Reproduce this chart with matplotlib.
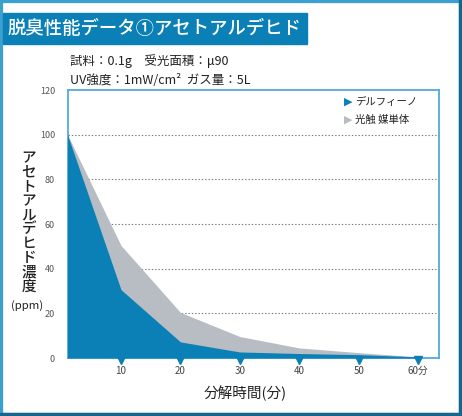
import matplotlib
matplotlib.use("Agg")
import matplotlib.pyplot as plt
from matplotlib.patches import Rectangle
from matplotlib import transforms

plt.rcParams['font.family'] = ['Noto Sans CJK JP', 'DejaVu Sans']

# ---- data ----
minutes = [1, 10, 20, 30, 40, 50, 60]
delfino = [100, 30.6, 7.2, 2.7, 2.0, 1.5, 0.5]
photocat = [100, 50.4, 20.4, 9.6, 4.5, 2.4, 0.5]
series_names = ["デルフィーノ", "光触 媒単体"]
x_ticks = [10, 20, 30, 40, 50, 60]
x_ticklabels = ["10", "20", "30", "40", "50", "60分"]
y_ticks = [0, 20, 40, 60, 80, 100, 120]

title = "脱臭性能データ①アセトアルデヒド"
cond1 = "試料：0.1g　受光面積：μ90"
cond2 = "UV強度：1mW/cm²  ガス量：5L"
ylabel_v = "アセトアルデヒド濃度"
ylabel_unit = "(ppm)"
xlabel = "分解時間(分)"

BLUE = "#0a80b6"
GRAY = "#b8bcc3"
FRAME = "#3b9fd0"
FRAME_DARK = "#17658c"

W, H = 462, 416
fig = plt.figure(figsize=(W / 100, H / 100), dpi=100)
fig.patch.set_facecolor("white")

def fx(px):
    return px / W

def fy(py):
    return 1 - py / H

# outer frame
fig.patches.append(Rectangle((0, 0), 1, 1, transform=fig.transFigure,
                             fill=False, edgecolor=FRAME, linewidth=4.5, zorder=0))
fig.patches.append(Rectangle((fx(0), fy(416)), fx(462), 3.2 / H, transform=fig.transFigure,
                             color=FRAME_DARK, zorder=1))
fig.patches.append(Rectangle((fx(459), fy(416)), 3.2 / W, fy(0) - fy(416), transform=fig.transFigure,
                             color=FRAME_DARK, zorder=1))

# title bar
fig.patches.append(Rectangle((fx(3), fy(44)), fx(307) - fx(3), fy(13) - fy(44),
                             transform=fig.transFigure, color=BLUE, zorder=1))
fig.text(fx(8), fy(28.5), title, color="white", fontsize=13.2, va="center", ha="left",
         fontweight="medium")

fig.text(fx(70), fy(61), cond1, color="#222222", fontsize=9, va="center", ha="left")
fig.text(fx(70), fy(80), cond2, color="#222222", fontsize=9, va="center", ha="left")

# axes
left, right, top, bottom = 67.5, 438.5, 90, 358
ax = fig.add_axes([fx(left), fy(bottom), fx(right) - fx(left), fy(top) - fy(bottom)])
ax.fill_between(minutes, photocat, 0, color=GRAY, linewidth=0, zorder=2)
ax.fill_between(minutes, delfino, 0, color=BLUE, linewidth=0, zorder=3)
ax.set_xlim(1, 63.4)
ax.set_ylim(0, 120)
for v in y_ticks[1:-1]:
    ax.axhline(v, color="#777777", linestyle=(0, (1.2, 1.8)), linewidth=0.8, zorder=1)
for s in ax.spines.values():
    s.set_color("#55a9d6")
    s.set_linewidth(1.3)
ax.set_yticks(y_ticks)
ax.set_yticklabels([str(v) for v in y_ticks], color="#555555", fontsize=6.5)
ax.set_xticks(x_ticks)
ax.set_xticklabels(x_ticklabels, color="#444444", fontsize=7)
ax.tick_params(axis="both", length=0)
ax.tick_params(axis="y", pad=9)
ax.tick_params(axis="x", pad=6)

# tick pointer markers below axis
off = transforms.offset_copy(ax.transData, fig=fig, x=0, y=-1.5, units="points")
ax.plot(x_ticks, [0] * len(x_ticks), linestyle="none", marker="v", markersize=6,
        color=BLUE, transform=off, clip_on=False, zorder=5)

# legend (custom)
leg_colors = [BLUE, GRAY]
for i, (name, c) in enumerate(zip(series_names, leg_colors)):
    ypx = 102 + i * 18
    fig.text(fx(344), fy(ypx), "▶", color=c, fontsize=8, va="center", ha="left",
             family=["DejaVu Sans"])
    fig.text(fx(355), fy(ypx), name, color="#222222", fontsize=7.5, va="center", ha="left")

# y label (vertical stacked)
for i, ch in enumerate(ylabel_v):
    fig.text(fx(29), fy(158 + i * 14.3), ch, fontsize=10.5, ha="center", va="center",
             color="#222222", fontweight="medium")
fig.text(fx(27), fy(306), ylabel_unit, fontsize=8.2, ha="center", va="center", color="#222222")

fig.text(fx(245), fy(393), xlabel, fontsize=10.5, ha="center", va="center", color="#222222")

fig.savefig("out.png", dpi=100)
